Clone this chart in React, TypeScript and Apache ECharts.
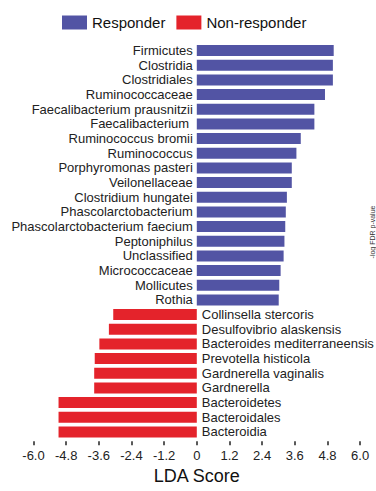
import React, { useEffect, useRef } from "react";
import * as echarts from "echarts";

const responderNames = [
  "Firmicutes",
  "Clostridia",
  "Clostridiales",
  "Ruminococcaceae",
  "Faecalibacterium prausnitzii",
  "Faecalibacterium ",
  "Ruminococcus bromii",
  "Ruminococcus",
  "Porphyromonas pasteri",
  "Veilonellaceae",
  "Clostridium hungatei",
  "Phascolarctobacterium",
  "Phascolarctobacterium faecium",
  "Peptoniphilus",
  "Unclassified",
  "Micrococcaceae",
  "Mollicutes",
  "Rothia",
];
const responderScores = [
  5.03, 5.0, 5.0, 4.71, 4.32, 4.32, 3.82, 3.66, 3.49, 3.49, 3.31, 3.27, 3.25,
  3.22, 3.19, 3.08, 3.03, 3.01,
];

const nonResponderNames = [
  "Collinsella stercoris",
  "Desulfovibrio alaskensis",
  "Bacteroides mediterraneensis",
  "Prevotella histicola",
  "Gardnerella vaginalis",
  "Gardnerella",
  "Bacteroidetes",
  "Bacteroidales",
  "Bacteroidia",
];
const nonResponderScores = [
  -3.07, -3.23, -3.58, -3.75, -3.77, -3.77, -5.08, -5.08, -5.08,
];

const xTicks = [-6.0, -4.8, -3.6, -2.4, -1.2, 0, 1.2, 2.4, 3.6, 4.8, 6.0];

const BLUE = "#5254A4";
const RED = "#E4232B";
const FONT = "Liberation Sans, Arial, sans-serif";

export default function App() {
  const ref = useRef<HTMLDivElement>(null);

  useEffect(() => {
    if (!ref.current) return;
    const chart = echarts.init(ref.current, undefined, { renderer: "svg" });

    const categories = [...responderNames, ...nonResponderNames];
    const respData = [
      ...responderScores,
      ...nonResponderNames.map(() => null),
    ];
    const nonRespData = [
      ...responderNames.map(() => null),
      ...nonResponderScores,
    ];

    chart.setOption({
      animation: false,
      backgroundColor: "#ffffff",
      textStyle: { fontFamily: FONT },
      legend: {
        data: ["Responder", "Non-responder"],
        left: 62,
        top: 15,
        padding: 0,
        itemWidth: 25,
        itemHeight: 14,
        itemGap: 11,
        icon: "rect",
        textStyle: { fontSize: 15, color: "#111", fontFamily: FONT },
      },
      grid: {
        left: 33.5,
        right: 15.9,
        top: 43.2,
        bottom: 51.7,
        containLabel: false,
      },
      xAxis: {
        type: "value",
        min: xTicks[0],
        max: xTicks[xTicks.length - 1],
        interval: 1.2,
        offset: 2,
        axisLine: { show: false },
        axisTick: {
          show: true,
          length: 4,
          lineStyle: { color: "#222", width: 1.5 },
        },
        splitLine: { show: false },
        axisLabel: {
          margin: 8,
          fontSize: 13,
          color: "#222",
          fontFamily: FONT,
          formatter: (v: number) =>
            Math.abs(v) < 1e-9 ? "0" : v.toFixed(1),
        },
        name: "LDA Score",
        nameLocation: "middle",
        nameGap: 19,
        nameTextStyle: { fontSize: 18, color: "#111", fontFamily: FONT },
      },
      yAxis: {
        type: "category",
        inverse: true,
        data: categories,
        show: false,
      },
      series: [
        {
          name: "Responder",
          type: "bar",
          data: respData,
          barWidth: 11,
          barGap: "-100%",
          itemStyle: { color: BLUE },
          label: {
            show: true,
            position: "left",
            distance: 4,
            formatter: "{b}",
            fontSize: 13,
            color: "#222",
            fontFamily: FONT,
          },
        },
        {
          name: "Non-responder",
          type: "bar",
          data: nonRespData,
          barWidth: 11,
          barGap: "-100%",
          itemStyle: { color: RED },
          label: {
            show: true,
            position: "right",
            distance: 5,
            formatter: "{b}",
            fontSize: 13,
            color: "#222",
            fontFamily: FONT,
          },
        },
      ],
      graphic: [
        {
          type: "text",
          x: 372,
          y: 232,
          rotation: Math.PI / 2,
          style: {
            text: "-log FDR p-value",
            font: "7px Liberation Sans",
            fill: "#333",
            textAlign: "center",
            textVerticalAlign: "middle",
          },
        },
      ],
    });

    return () => chart.dispose();
  }, []);

  return (
    <div
      ref={ref}
      style={{
        position: "absolute",
        left: 0,
        top: 0,
        width: 376,
        height: 491,
      }}
    />
  );
}
